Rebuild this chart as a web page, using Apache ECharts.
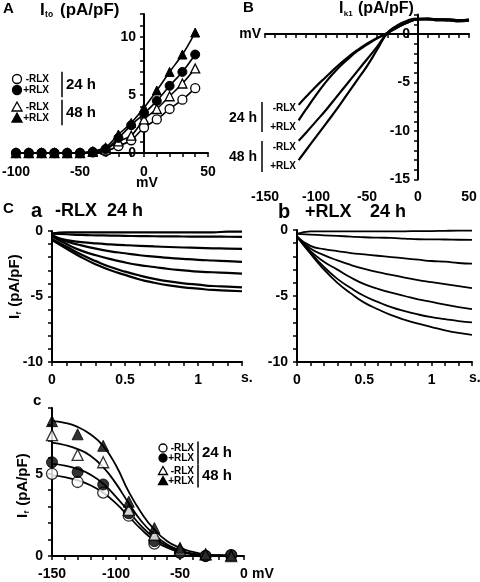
<!DOCTYPE html>
<html><head><meta charset="utf-8">
<script src="https://cdn.jsdelivr.net/npm/echarts@6/dist/echarts.min.js"></script>
<style>html,body{margin:0;padding:0;background:#fff}#c{width:480px;height:582px}</style>
</head><body><div id="c"></div>
<script>
// ---------- Panel A: Ito I-V ----------
const itoVoltages = [-100,-90,-80,-70,-60,-50,-40,-30,-20,-10,0,10,20,30,40];
const itoMinusRlx24 = [0,0,0,0,0,0,0.05,0.15,0.6,1.1,2.2,2.9,3.8,4.6,5.6];
const itoPlusRlx24  = [0,0,0,0,0,0,0.1,0.35,1.3,2.4,3.4,4.5,5.8,7.0,8.5];
const itoMinusRlx48 = [0,0,0,0,0,0,0.1,0.3,1.0,1.5,2.9,3.8,4.9,6.0,7.3];
const itoPlusRlx48  = [0,0,0,0,0,0,0.15,0.5,1.6,2.6,3.9,5.4,7.0,8.5,10.4];

// ---------- Panel B: IK1 ramps ----------
const ik1Voltages = [-117,-110,-100,-90,-80,-70,-60,-50,-40,-30,-20,-10,0,10,20,30,40,50];
const ik1MinusRlx24 = [-7.3,-6.5,-5.4,-4.4,-3.4,-2.5,-1.7,-1.0,-0.4,0.1,0.7,1.2,1.5,1.5,1.4,1.4,1.3,1.4];
const ik1PlusRlx24  = [-8.9,-7.8,-6.3,-4.9,-3.7,-2.7,-1.8,-1.1,-0.45,0.1,0.7,1.2,1.5,1.5,1.5,1.4,1.4,1.4];
const ik1MinusRlx48 = [-11.0,-10.2,-9.0,-7.8,-6.5,-5.2,-3.9,-2.6,-1.3,0.1,0.8,1.3,1.5,1.6,1.5,1.5,1.4,1.4];
const ik1PlusRlx48  = [-13.0,-12.0,-10.6,-9.2,-7.8,-6.3,-4.8,-3.3,-1.6,0.1,0.9,1.4,1.6,1.6,1.5,1.5,1.4,1.5];

// ---------- Panel C a/b: If current traces ----------
const traceTimes = [0,0.1,0.2,0.3,0.4,0.5,0.6,0.7,0.8,0.9,1.0,1.1,1.2,1.3];
const tracesMinusRlx = [
  [-0.2,-0.1,-0.1,-0.1,-0.1,-0.1,-0.1,-0.1,-0.1,-0.1,-0.1,-0.1,-0.05,-0.05],
  [-0.2,-0.25,-0.3,-0.33,-0.35,-0.37,-0.39,-0.4,-0.41,-0.42,-0.43,-0.43,-0.44,-0.45],
  [-0.4,-0.7,-0.85,-0.95,-1.02,-1.08,-1.13,-1.18,-1.22,-1.26,-1.29,-1.32,-1.34,-1.36],
  [-0.3,-0.8,-1.1,-1.35,-1.55,-1.7,-1.85,-1.95,-2.05,-2.13,-2.2,-2.25,-2.3,-2.35],
  [-0.4,-1.0,-1.5,-1.85,-2.15,-2.4,-2.6,-2.75,-2.9,-3.0,-3.1,-3.15,-3.2,-3.25],
  [-0.6,-1.2,-1.8,-2.3,-2.75,-3.1,-3.4,-3.65,-3.85,-4.0,-4.1,-4.2,-4.25,-4.3],
  [-0.7,-1.35,-2.0,-2.55,-3.0,-3.35,-3.7,-3.95,-4.15,-4.3,-4.4,-4.5,-4.55,-4.6]
];
const tracesPlusRlx = [
  [-0.3,-0.1,-0.1,-0.1,-0.1,-0.1,-0.1,-0.1,-0.1,-0.08,-0.08,-0.06,-0.05,-0.05],
  [-0.3,-0.35,-0.4,-0.45,-0.5,-0.55,-0.58,-0.6,-0.65,-0.7,-0.71,-0.72,-0.74,-0.75],
  [-0.5,-1.2,-1.45,-1.6,-1.75,-1.85,-1.95,-2.05,-2.15,-2.25,-2.35,-2.4,-2.5,-2.55],
  [-0.5,-1.4,-1.9,-2.3,-2.65,-2.95,-3.2,-3.4,-3.6,-3.8,-3.95,-4.1,-4.25,-4.4],
  [-0.5,-1.6,-2.4,-3.0,-3.6,-4.1,-4.45,-4.75,-5.0,-5.25,-5.45,-5.65,-5.85,-6.0],
  [-0.5,-1.7,-2.8,-3.7,-4.4,-5.0,-5.45,-5.85,-6.15,-6.4,-6.6,-6.75,-6.9,-7.0],
  [-0.5,-1.8,-3.0,-4.0,-4.8,-5.5,-6.0,-6.45,-6.8,-7.1,-7.35,-7.6,-7.8,-7.95]
];

// ---------- Panel C c: If activation ----------
const ifVoltages = [-150,-130,-110,-90,-70,-50,-30,-10];
const ifMinusRlx24 = [5.0,4.5,3.85,2.45,0.75,0.2,0.0,0.05];
const ifPlusRlx24  = [5.7,5.1,4.35,2.6,0.9,0.2,0.0,0.05];
const ifMinusRlx48 = [7.35,6.15,5.7,2.8,1.3,0.4,0.1,0.0];
const ifPlusRlx48  = [8.2,7.4,6.7,3.3,1.7,0.5,0.1,0.05];
const ifFitVoltages = [-150,-140,-130,-120,-110,-100,-90,-80,-70,-60,-50,-40,-30,-20,-10];
const ifFitMinusRlx24 = [4.9,4.8,4.6,4.3,3.85,3.2,2.4,1.6,0.95,0.5,0.25,0.1,0.04,0.02,0.01];
const ifFitPlusRlx24  = [5.6,5.5,5.3,4.95,4.4,3.6,2.7,1.8,1.1,0.6,0.3,0.12,0.05,0.02,0.01];
const ifFitMinusRlx48 = [6.9,6.75,6.5,6.1,5.4,4.4,3.2,2.1,1.3,0.7,0.35,0.15,0.07,0.03,0.02];
const ifFitPlusRlx48  = [8.2,8.1,7.85,7.4,6.7,5.5,3.9,2.6,1.6,0.9,0.5,0.25,0.1,0.05,0.03];

// ---------- helpers ----------
const FONT = 'Liberation Sans';
const zip = (xs, ys) => xs.map((x, i) => [x, ys[i]]);
const every = (step) => (v) => {
  const r = Math.round(v / step);
  return Math.abs(v / step - r) < 1e-6 ? String(+(r * step).toFixed(2)) : '';
};
const timeFmt = (v) => {
  const r = Math.round(v * 2);
  return (Math.abs(v * 2 - r) < 1e-6 && r <= 2) ? String(r / 2) : '';
};
const lbl = (margin, formatter) => ({ color: '#000', fontFamily: FONT, fontWeight: 'bold', fontSize: 14, margin, formatter });
const axisBase = (extra) => Object.assign({
  type: 'value',
  axisLine: { onZero: false, lineStyle: { color: '#000', width: 2 } },
  axisTick: { length: 4, lineStyle: { color: '#000', width: 1.5 } },
  splitLine: { show: false }
}, extra);

const open = { color: '#fff', borderColor: '#000', borderWidth: 1.3 };
const filled = { color: '#000', borderColor: '#000', borderWidth: 1 };

function markerLine(idx, data, symbol, style, size) {
  return { type: 'line', xAxisIndex: idx, yAxisIndex: idx, data, symbol, symbolSize: size,
    smooth: 0.3, itemStyle: style, lineStyle: { color: '#000', width: 1.6 }, z: 3, silent: true };
}
function plainLine(idx, data, width) {
  return { type: 'line', xAxisIndex: idx, yAxisIndex: idx, data, symbol: 'none', smooth: true,
    lineStyle: { color: '#000', width }, z: 2, silent: true };
}
function scatter(idx, data, symbol, style, size) {
  return { type: 'scatter', xAxisIndex: idx, yAxisIndex: idx, data, symbol, symbolSize: size,
    itemStyle: style, z: 4, silent: true };
}

const series = [];
// A
series.push(markerLine(0, zip(itoVoltages, itoMinusRlx24), 'circle', open, 9));
series.push(markerLine(0, zip(itoVoltages, itoMinusRlx48), 'triangle', open, 9));
series.push(markerLine(0, zip(itoVoltages, itoPlusRlx24), 'circle', filled, 9));
series.push(markerLine(0, zip(itoVoltages, itoPlusRlx48), 'triangle', filled, 9));
// B
[ik1MinusRlx24, ik1PlusRlx24, ik1MinusRlx48, ik1PlusRlx48].forEach(arr =>
  series.push(plainLine(1, zip(ik1Voltages, arr), 2.2)));
// a, b
tracesMinusRlx.forEach(arr => series.push(plainLine(2, zip(traceTimes, arr), 2.2)));
tracesPlusRlx.forEach(arr => series.push(plainLine(3, zip(traceTimes, arr), 1.8)));
// c
[ifFitMinusRlx24, ifFitPlusRlx24, ifFitMinusRlx48, ifFitPlusRlx48].forEach(arr =>
  series.push(plainLine(4, zip(ifFitVoltages, arr), 1.8)));
series.push(scatter(4, zip(ifVoltages, ifMinusRlx24), 'circle', open, 11));
series.push(scatter(4, zip(ifVoltages, ifPlusRlx24), 'circle', filled, 11));
series.push(scatter(4, zip(ifVoltages, ifMinusRlx48), 'triangle', open, 11));
series.push(scatter(4, zip(ifVoltages, ifPlusRlx48), 'triangle', filled, 11));

// ---------- graphics (titles, panel letters, legends) ----------
const g = [];
function txt(x, y, text, size, opts) {
  g.push(Object.assign({ type: 'text', x, y, silent: true,
    style: Object.assign({ text, fill: '#000', fontFamily: FONT, fontWeight: 'bold', fontSize: size,
      align: 'left', verticalAlign: 'middle' }, (opts && opts.style) || {}) },
    (opts && opts.el) || {}));
}
function sym(kind, x, y, fill, r) {
  const style = { fill: fill ? '#000' : '#fff', stroke: '#000', lineWidth: 1.3 };
  if (kind === 'circle') g.push({ type: 'circle', silent: true, shape: { cx: x, cy: y, r }, style });
  else g.push({ type: 'polygon', silent: true, shape: { points: [[x, y - r - 0.5], [x + r + 0.5, y + r - 0.5], [x - r - 0.5, y + r - 0.5]] }, style });
}
function bar(x, y1, y2) {
  g.push({ type: 'line', silent: true, shape: { x1: x, y1, x2: x, y2 }, style: { stroke: '#000', lineWidth: 1.5 } });
}
function legendBlock(sx, tx, barX, y0, dy, kind, hours, small, big) {
  sym(kind, sx, y0, false, small ? 4 : 4.5);
  sym(kind, sx, y0 + dy, true, small ? 4 : 4.5);
  txt(tx, y0, '-RLX', 10, { style: { align: 'right' } });
  txt(tx, y0 + dy, '+RLX', 10, { style: { align: 'right' } });
  bar(barX, y0 - dy * 0.65, y0 + dy * 1.65);
  txt(barX + 4, y0 + dy / 2, hours, big);
}
function subTitle(x, y, main, sub, rest, size) {
  txt(x, y, main, size);
  txt(x + size * 0.3, y + size * 0.3, sub, size * 0.5);
  txt(x + size * 0.3 + sub.length * size * 0.27 + 1, y, rest, size);
}

// Panel A
txt(3, 9, 'A', 15);
subTitle(40, 10, 'I', 'to', ' (pA/pF)', 17);
txt(147, 183, 'mV', 14, { style: { align: 'center' } });
legendBlock(17, 49, 62, 79, 11, 'circle', '24 h', false, 15);
legendBlock(17, 49, 62, 107, 11, 'triangle', '48 h', false, 15);

// Panel B
txt(243, 8, 'B', 15);
subTitle(339, 9, 'I', 'k1', ' (pA/pF)', 16);
txt(257, 118, '24 h', 14, { style: { align: 'right' } });
bar(262, 102, 132);
txt(296, 108, '-RLX', 10, { style: { align: 'right' } });
txt(296, 127, '+RLX', 10, { style: { align: 'right' } });
txt(257, 157, '48 h', 14, { style: { align: 'right' } });
bar(262, 141, 172);
txt(296, 147, '-RLX', 10, { style: { align: 'right' } });
txt(296, 166, '+RLX', 10, { style: { align: 'right' } });

// Panel C a / b
txt(3, 209, 'C', 15);
txt(31, 211, 'a', 20);
txt(55, 211, '-RLX  24 h', 18);
txt(278, 212, 'b', 20);
txt(305, 212, '+RLX', 18);
txt(370, 212, '24 h', 18);
txt(241, 378, 's.', 14);
txt(469, 378, 's.', 14);
// Panel c
txt(33, 401, 'c', 15);
txt(252, 574, 'mV', 14);
legendBlock(163, 194, 198, 448, 10, 'circle', '24 h', true, 15);
legendBlock(163, 194, 198, 471, 10, 'triangle', '48 h', true, 15);

// rotated y-axis titles
function yTitle(cx, cy) {
  g.push({ type: 'group', x: cx, y: cy, rotation: Math.PI / 2, silent: true, children: [
    { type: 'text', x: -34, y: 0, style: { text: 'I', fill: '#000', fontFamily: FONT, fontWeight: 'bold', fontSize: 15, verticalAlign: 'middle' } },
    { type: 'text', x: -29.5, y: 4, style: { text: 'f', fill: '#000', fontFamily: FONT, fontWeight: 'bold', fontSize: 8, verticalAlign: 'middle' } },
    { type: 'text', x: -26, y: 0, style: { text: ' (pA/pF)', fill: '#000', fontFamily: FONT, fontWeight: 'bold', fontSize: 15, verticalAlign: 'middle' } }
  ]});
}
yTitle(15, 285);
yTitle(23, 484);

// grid geometry (px); y axes of A and B sit at 0 mV via offset
const gridA = { left: 16, top: 14, width: 192, height: 139 };
const gridB = { left: 265, top: 14.6, width: 204, height: 165 };
const xMinA = -100, xMaxA = 50, xMinB = -150, xMaxB = 50;
const offA = -gridA.width * (0 - xMinA) / (xMaxA - xMinA);
const offB = -gridB.width * (0 - xMinB) / (xMaxB - xMinB);

const option = {
  animation: false,
  backgroundColor: '#fff',
  grid: [
    Object.assign({ outerBoundsMode: 'none' }, gridA),
    Object.assign({ outerBoundsMode: 'none' }, gridB),
    { left: 52, top: 231, width: 190, height: 131, outerBoundsMode: 'none' },
    { left: 297, top: 230, width: 175, height: 132, outerBoundsMode: 'none' },
    { left: 52, top: 408, width: 192, height: 148, outerBoundsMode: 'none' }
  ],
  xAxis: [
    axisBase({ gridIndex: 0, min: xMinA, max: xMaxA, interval: 10, axisLabel: lbl(12, every(50)) }),
    axisBase({ gridIndex: 1, min: xMinB, max: xMaxB, interval: 10, name: 'mV', nameLocation: 'start', nameGap: 4,
      axisLine: { onZero: true, lineStyle: { color: '#000', width: 2 } },
      nameTextStyle: { color: '#000', fontFamily: FONT, fontWeight: 'bold', fontSize: 14 },
      axisLabel: lbl(11, every(50)) }),
    axisBase({ gridIndex: 2, min: 0, max: 1.3, interval: 0.1, axisLabel: lbl(11, timeFmt) }),
    axisBase({ gridIndex: 3, min: 0, max: 1.3, interval: 0.1, axisLabel: lbl(11, timeFmt) }),
    axisBase({ gridIndex: 4, min: -150, max: 0, interval: 10, axisLabel: lbl(11, every(50)) })
  ],
  yAxis: [
    axisBase({ gridIndex: 0, min: 0, max: 12, interval: 1, offset: offA, axisLabel: lbl(8, every(5)) }),
    axisBase({ gridIndex: 1, min: -15, max: 2, interval: 1, offset: offB, axisLabel: lbl(8, every(5)) }),
    axisBase({ gridIndex: 2, min: -10, max: 0, interval: 1, axisLabel: lbl(9, every(5)) }),
    axisBase({ gridIndex: 3, min: -10, max: 0, interval: 1, axisLabel: lbl(9, every(5)) }),
    axisBase({ gridIndex: 4, min: 0, max: 9, interval: 1, axisLabel: lbl(9, every(5)) })
  ],
  series,
  graphic: g
};

const chart = echarts.init(document.getElementById('c'), null, { renderer: 'canvas' });
chart.setOption(option);
</script>
</body></html>
